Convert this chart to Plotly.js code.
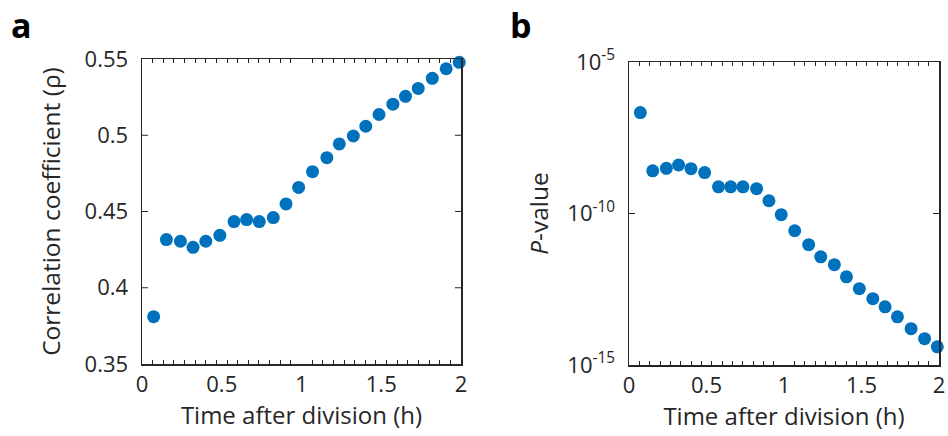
<!DOCTYPE html>
<html>
<head>
<meta charset="utf-8">
<script src="https://cdn.plot.ly/plotly-3.0.1.min.js"></script>
<style>
html,body{margin:0;padding:0;background:#fff}
#wrap{display:flex;width:948px;height:436px;overflow:hidden}
#panelA,#panelB{width:474px;height:436px;flex:0 0 474px}
</style>
</head>
<body>
<div id="wrap"><div id="panelA"></div><div id="panelB"></div></div>
<script>
// Time after division (h), shared by both panels
const timeH = [0.073, 0.153, 0.241, 0.320, 0.400, 0.488, 0.577, 0.656, 0.735, 0.823, 0.903, 0.982,
               1.069, 1.159, 1.237, 1.325, 1.403, 1.486, 1.573, 1.652, 1.732, 1.820, 1.907, 1.989];
// Panel a: correlation coefficient (rho)
const rho = [0.381, 0.4316, 0.4305, 0.4265, 0.4305, 0.4344, 0.4434, 0.4447, 0.4434, 0.446, 0.455, 0.4658,
             0.4761, 0.4853, 0.4943, 0.4995, 0.5059, 0.5136, 0.5204, 0.5255, 0.5307, 0.5373, 0.5436, 0.5478];
// Panel b: log10 of P-value
const log10P = [-6.67, -8.59, -8.51, -8.40, -8.52, -8.65, -9.12, -9.12, -9.12, -9.18, -9.58, -10.04,
                -10.57, -11.03, -11.43, -11.69, -12.09, -12.48, -12.81, -13.08, -13.41, -13.80, -14.13, -14.40];
const pValue = log10P.map(v => Math.pow(10, v));

const xTickVals = [0, 0.5, 1, 1.5, 2];
const xTickText = ['0', '0.5', '1', '1.5', '2'];
const yaTickVals = [0.35, 0.4, 0.45, 0.5, 0.55];
const yaTickText = ['0.35', '0.4', '0.45', '0.5', '0.55'];
const ybTickVals = [1e-15, 1e-10, 1e-5];
const ybTickText = ['10<sup>-15</sup>', '10<sup>-10</sup>', '10<sup>-5</sup>'];
const xMinorStep = 2 / 30; // small ticks every 4 min

const blue = '#0072BD';
const ink = '#262626';
const FONT = '"Open Sans", "Noto Sans", sans-serif';
const W = 474, H = 436;

function xAxis() {
  return {
    range: [xTickVals[0], xTickVals[xTickVals.length - 1]], showgrid: false, zeroline: false,
    showline: true, linecolor: ink, linewidth: 1.5, mirror: 'allticks',
    ticks: 'inside', ticklen: 4, tickwidth: 1, tickcolor: 'rgba(0,0,0,0)',
    tickmode: 'linear', tick0: xTickVals[0], dtick: xTickVals[1] - xTickVals[0],
    minor: {ticks: 'inside', ticklen: 4, tickwidth: 1, tickcolor: ink, tick0: 0, dtick: xMinorStep, showgrid: false},
    tickfont: {size: 22, color: ink, family: FONT},
    title: {text: 'Time after division (h)', font: {size: 24, color: ink, family: FONT}, standoff: 7}
  };
}
function yAxis(extra) {
  return Object.assign({
    showgrid: false, zeroline: false, showline: true, linecolor: ink, linewidth: 1.5, mirror: true,
    ticks: 'outside', ticklen: 8, tickcolor: 'rgba(0,0,0,0)', tickmode: 'array',
    tickfont: {size: 22, color: ink, family: FONT}
  }, extra);
}
// inward y tick marks: short line markers on both frame edges, clipped to the plot area
function yTickTrace(vals) {
  const inner = vals.slice(1, -1);
  const x0 = xTickVals[0], x1 = xTickVals[xTickVals.length - 1];
  return {
    x: inner.map(() => x0).concat(inner.map(() => x1)), y: inner.concat(inner),
    type: 'scatter', mode: 'markers', cliponaxis: true, hoverinfo: 'skip',
    marker: {symbol: 'line-ew', size: 8.6, color: ink, line: {color: ink, width: 1}}
  };
}
function panelLabel(txt, px, py, M) {
  const pw = W - M.l - M.r, ph = H - M.t - M.b;
  return {text: '<b>' + txt + '</b>', xref: 'paper', yref: 'paper',
    x: (px - M.l) / pw, y: (H - M.b - py) / ph, xanchor: 'left', yanchor: 'middle',
    showarrow: false, font: {size: 34, color: '#000', family: FONT}};
}

const mA = {l: 142, r: 13, t: 59, b: 72};
const layoutA = {
  width: W, height: H, margin: mA, showlegend: false,
  paper_bgcolor: '#fff', plot_bgcolor: '#fff', font: {family: FONT, color: ink},
  xaxis: xAxis(),
  yaxis: yAxis({range: [0.35, 0.55], tickvals: yaTickVals, ticktext: yaTickText,
    title: {text: 'Correlation coefficient (ρ)', font: {size: 24.5, color: ink, family: FONT}, standoff: 17}}),
  annotations: [panelLabel('a', 9, 25, mA)]
};
const tracesA = [
  {x: timeH, y: rho, type: 'scatter', mode: 'markers', marker: {color: blue, size: 13}, cliponaxis: false, hoverinfo: 'skip'},
  yTickTrace(yaTickVals)
];

const mB = {l: 155, r: 9, t: 62, b: 71};
const layoutB = {
  width: W, height: H, margin: mB, showlegend: false,
  paper_bgcolor: '#fff', plot_bgcolor: '#fff', font: {family: FONT, color: ink},
  xaxis: xAxis(),
  yaxis: yAxis({type: 'log', range: [Math.log10(ybTickVals[0]), Math.log10(ybTickVals[2])],
    tickvals: ybTickVals, ticktext: ybTickText,
    title: {text: '<i>P</i>-value', font: {size: 24.5, color: ink, family: FONT}, standoff: 12}}),
  annotations: [panelLabel('b', 508 - 474, 25, mB)]
};
const tracesB = [
  {x: timeH, y: pValue, type: 'scatter', mode: 'markers', marker: {color: blue, size: 13}, cliponaxis: false, hoverinfo: 'skip'},
  yTickTrace(ybTickVals)
];

const cfg = {staticPlot: true, displayModeBar: false};
Plotly.newPlot('panelA', tracesA, layoutA, cfg);
Plotly.newPlot('panelB', tracesB, layoutB, cfg);
</script>
</body>
</html>
